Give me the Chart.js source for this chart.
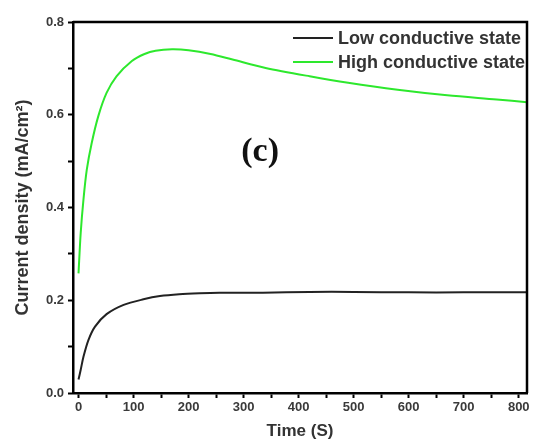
<!DOCTYPE html>
<html>
<head>
<meta charset="utf-8">
<script src="https://cdn.jsdelivr.net/npm/chart.js@4.4.0/dist/chart.umd.min.js"></script>
<style>
  html, body { margin: 0; padding: 0; background: #fff; }
  #wrap { width: 534px; height: 442px; }
</style>
</head>
<body>
<div id="wrap"><canvas id="myChart"></canvas></div>
<script>
// data
const lowTime = [0, 4, 9, 18, 30, 51, 82, 118, 148, 183, 220, 256, 335, 420, 500, 600, 700, 815];
const lowCurrent = [0.029, 0.050, 0.078, 0.114, 0.143, 0.170, 0.190, 0.202, 0.209, 0.213, 0.215, 0.216, 0.216, 0.218, 0.218, 0.217, 0.217, 0.217];

const highTime = [0, 4, 9, 15, 24, 36, 51, 69, 97, 120, 140, 170, 200, 240, 280, 340, 420, 490, 580, 670, 760, 815];
const highCurrent = [0.258, 0.345, 0.417, 0.481, 0.539, 0.597, 0.647, 0.683, 0.716, 0.731, 0.738, 0.741, 0.739, 0.731, 0.719, 0.701, 0.683, 0.669, 0.654, 0.642, 0.633, 0.627];

const xTicks = [0, 100, 200, 300, 400, 500, 600, 700, 800];
const yTicks = [0.0, 0.2, 0.4, 0.6, 0.8];

const FONT = '"Liberation Sans", Arial, sans-serif';

function toPoints(xs, ys) {
  return xs.map((x, i) => ({ x: x, y: ys[i] }));
}

// frame on top/right, legend in the corner, panel label
const extras = {
  id: 'extras',
  afterDraw(chart) {
    const { ctx, chartArea: a, scales } = chart;
    ctx.save();
    ctx.strokeStyle = '#000';
    ctx.lineWidth = 2.5;
    ctx.beginPath();
    ctx.moveTo(a.left, a.top);
    ctx.lineTo(a.right, a.top);
    ctx.lineTo(a.right, a.bottom);
    ctx.stroke();

    // legend
    ctx.font = 'bold 18px ' + FONT;
    ctx.textBaseline = 'middle';
    ctx.textAlign = 'left';
    chart.data.datasets.forEach((ds, i) => {
      const y = a.top + 16 + i * 24;
      ctx.strokeStyle = ds.borderColor;
      ctx.lineWidth = 2;
      ctx.beginPath();
      ctx.moveTo(a.right - 234, y);
      ctx.lineTo(a.right - 194, y);
      ctx.stroke();
      ctx.fillStyle = '#333';
      ctx.fillText(ds.label, a.right - 189, y + 1);
    });

    ctx.fillStyle = '#111';
    ctx.font = 'bold 34px "Liberation Serif", serif';
    ctx.textAlign = 'center';
    ctx.fillText('(c)', scales.x.getPixelForValue(330), scales.y.getPixelForValue(0.52));
    ctx.restore();
  }
};

const ctx = document.getElementById('myChart');
new Chart(ctx, {
  type: 'line',
  data: {
    datasets: [
      {
        label: 'Low conductive state',
        data: toPoints(lowTime, lowCurrent),
        borderColor: '#222222',
        backgroundColor: '#222222',
        borderWidth: 2,
        pointRadius: 0,
        tension: 0.3
      },
      {
        label: 'High conductive state',
        data: toPoints(highTime, highCurrent),
        borderColor: '#2de82d',
        backgroundColor: '#2de82d',
        borderWidth: 2,
        pointRadius: 0,
        tension: 0.3
      }
    ]
  },
  options: {
    responsive: true,
    maintainAspectRatio: false,
    animation: false,
    layout: { padding: { top: 22, right: 7, left: 12, bottom: 0 } },
    plugins: {
      legend: { display: false },
      tooltip: { enabled: false }
    },
    scales: {
      x: {
        type: 'linear',
        min: -10,
        max: 815,
        afterFit(scale) { scale.height = 49; },
        afterBuildTicks(scale) {
          const t = [];
          for (let v = 0; v <= 800; v += 50) t.push({ value: v });
          scale.ticks = t;
        },
        border: { display: true, color: '#000', width: 2.5 },
        grid: { drawOnChartArea: false, color: '#000', tickLength: 5, tickWidth: 2 },
        ticks: {
          color: '#3a3a3a',
          padding: 2,
          maxRotation: 0,
          autoSkip: false,
          font: { family: FONT, size: 13, weight: 'bold' },
          callback: (v) => xTicks.includes(v) ? String(v) : ''
        },
        title: {
          display: true,
          text: 'Time (S)',
          color: '#333',
          padding: { top: 0, bottom: 0 },
          font: { family: FONT, size: 17, weight: 'bold' }
        }
      },
      y: {
        min: 0,
        max: 0.8,
        afterFit(scale) { scale.width = 61; },
        afterBuildTicks(scale) {
          const t = [];
          for (let i = 0; i <= 8; i++) t.push({ value: i / 10 });
          scale.ticks = t;
        },
        border: { display: true, color: '#000', width: 2.5 },
        grid: { drawOnChartArea: false, color: '#000', tickLength: 5, tickWidth: 2 },
        ticks: {
          color: '#3a3a3a',
          padding: 4,
          autoSkip: false,
          font: { family: FONT, size: 13, weight: 'bold' },
          callback: (v) => {
            const r = Math.round(v * 10) / 10;
            return yTicks.some(k => Math.abs(k - r) < 1e-9) && Math.round(v * 10) % 2 === 0 ? r.toFixed(1) : '';
          }
        },
        title: {
          display: true,
          text: 'Current density (mA/cm\u00B2)',
          color: '#333',
          padding: { top: 0, bottom: 2 },
          font: { family: FONT, size: 18, weight: 'bold' }
        }
      }
    }
  },
  plugins: [extras]
});
</script>
</body>
</html>
